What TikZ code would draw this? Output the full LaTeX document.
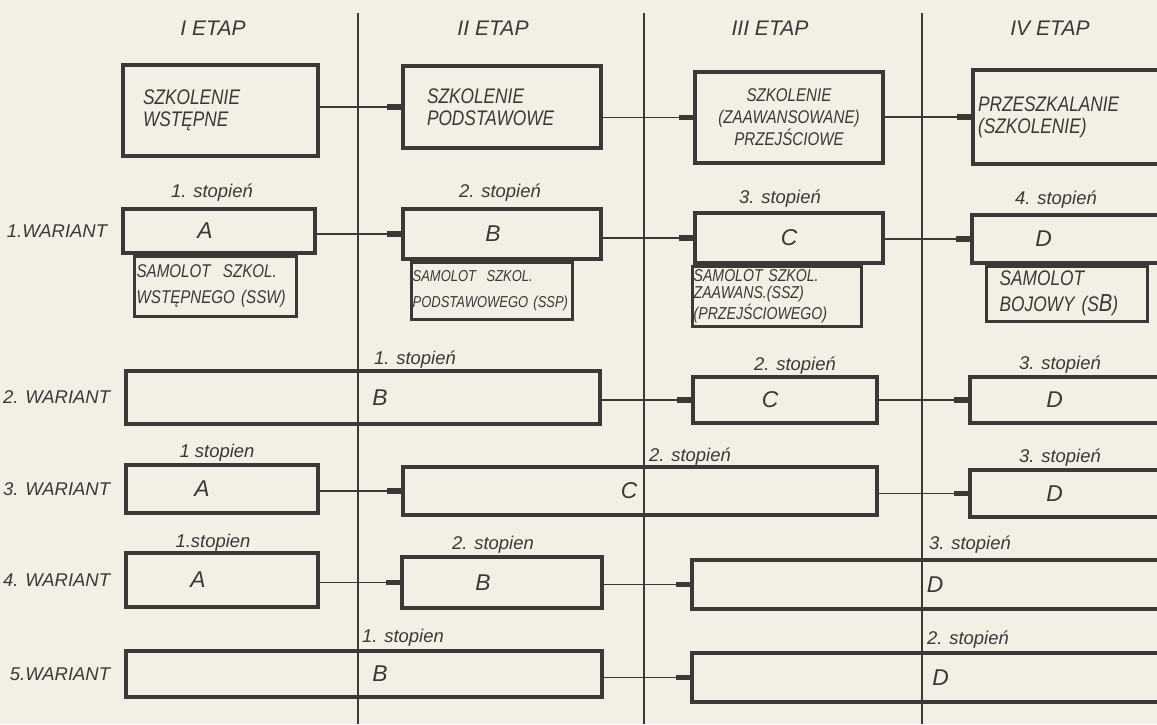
\documentclass[tikz,border=0pt]{standalone}
\usepackage{fontspec}
\setmainfont{Liberation Sans}
\newfontfamily\condfont{Liberation Sans Italic}[FakeStretch=0.82]
\usepackage{tikz}
\usetikzlibrary{arrows.meta, positioning}
\definecolor{paper}{RGB}{243, 239, 228}
\definecolor{ink}{RGB}{60, 56, 52}

\begin{document}
\begin{tikzpicture}[color=ink,
    box/.style={draw=ink, line width=2pt, inner sep=0pt},
    letter/.style={font=\fontsize{13}{15}\selectfont\itshape},
    etapbox/.style={draw=ink, line width=2pt, inner ysep=0pt, font=\condfont\fontsize{12}{12.5}\selectfont},
    subbox/.style={draw=ink, line width=1.6pt, anchor=north west, align=left, inner ysep=1pt},
    etap/.style={font=\fontsize{12}{14}\selectfont\itshape},
    stopien/.style={font=\fontsize{10.5}{13}\selectfont\itshape},
    wariant/.style={font=\fontsize{10.5}{12}\selectfont\itshape, left=0.16cm of #1},
    arr/.style={-{Rectangle[length=8pt, width=3.2pt]}, line width=1.1pt},
    divider/.style={line width=0.8pt}
  ]

% paper and page size
\fill[paper] (0,0) rectangle (23.14,14.48);
\useasboundingbox (0,0) rectangle (23.14,14.48);

% stage dividers
\foreach \x in {7.16,12.88,18.44}
    \draw[divider] (\x,14.22) -- (\x,0);

% stage headers
\node[etap] (H1) at (4.26,13.92) {I ETAP};
\node[etap] (H2) at (9.86,13.92) {II ETAP};
\node[etap] (H3) at (15.40,13.92) {III ETAP};
\node[etap] (H4) at (21.00,13.92) {IV ETAP};

% training stages
\node[etapbox, text width=3.1cm, inner xsep=0.4cm, minimum height=1.82cm, align=left]
    (E1) at (4.41,12.27) {SZKOLENIE\\WSTĘPNE};
\node[etapbox, text width=3.0cm, inner xsep=0.48cm, minimum height=1.64cm, align=left]
    (E2) at (10.04,12.34) {SZKOLENIE\\PODSTAWOWE};
\node[etapbox, text width=3.56cm, inner xsep=0.1cm, minimum height=1.82cm, align=center,
      font=\condfont\fontsize{10.5}{12.5}\selectfont]
    (E3) at (15.78,12.13) {SZKOLENIE\\(ZAAWANSOWANE)\\PRZEJŚCIOWE};
\node[etapbox, text width=3.84cm, inner xsep=0.1cm, minimum height=1.88cm, align=left]
    (E4) at (21.48,12.14) {PRZESZKALANIE\\(SZKOLENIE)};

% 1. wariant
\node[box, minimum width=3.84cm, minimum height=0.88cm] (A1) at (4.38,9.86) {};
\node[box, minimum width=3.96cm, minimum height=1.0cm] (B1) at (10.04,9.8) {};
\node[box, minimum width=3.76cm, minimum height=1.0cm] (C1) at (15.78,9.72) {};
\node[box, minimum width=4.06cm, minimum height=0.96cm] (D1) at (21.47,9.7) {};
\node[letter] (A1l) at ([xshift=-0.28cm]A1.center) {A};
\node[letter] (B1l) at ([xshift=-0.18cm]B1.center) {B};
\node[letter] (C1l) at (C1.center) {C};
\node[letter] (D1l) at ([xshift=-0.6cm]D1.center) {D};
\node[stopien] (S11) at (4.24,10.62) {1. stopień};
\node[stopien] (S12) at (10.0,10.62) {2. stopień};
\node[stopien] (S13) at (15.6,10.5) {3. stopień};
\node[stopien] (S14) at (21.12,10.48) {4. stopień};
\node[wariant=A1] (W1) {1.WARIANT};

% aircraft types
\node[subbox, text width=3.16cm, inner xsep=0.04cm, minimum height=1.2cm,
      font=\condfont\fontsize{10.5}{14.5}\selectfont]
    (A1s) at ([xshift=0.24cm]A1.south west) {SAMOLOT\ \ SZKOL.\\WSTĘPNEGO (SSW)};
\node[subbox, text width=3.18cm, inner xsep=0.02cm, minimum height=1.14cm,
      font=\condfont\fontsize{9}{15}\selectfont]
    (B1s) at ([xshift=0.18cm]B1.south west) {SAMOLOT\ \ SZKOL.\\PODSTAWOWEGO (SSP)};
\node[subbox, text width=3.34cm, inner xsep=0.02cm, minimum height=1.2cm,
      font=\condfont\fontsize{9.8}{9.6}\selectfont]
    (C1s) at ([xshift=-0.04cm]C1.south west) {SAMOLOT SZKOL.\\ZAAWANS.(SSZ)\\(PRZEJŚCIOWEGO)};
\node[subbox, text width=2.7cm, inner xsep=0.26cm, minimum height=1.1cm,
      font=\condfont\fontsize{12}{14.7}\selectfont]
    (D1s) at ([xshift=0.3cm]D1.south west) {SAMOLOT\\BOJOWY (S{\fontsize{14}{14}\selectfont B})};

% 2. wariant
\node[box, minimum width=9.48cm, minimum height=1.06cm] (B2) at (7.26,6.53) {};
\node[box, minimum width=3.68cm, minimum height=0.92cm] (C2) at (15.7,6.48) {};
\node[box, minimum width=4.1cm, minimum height=0.92cm] (D2) at (21.45,6.48) {};
\node[letter] (B2l) at ([xshift=0.34cm]B2.center) {B};
\node[letter] (C2l) at ([xshift=-0.3cm]C2.center) {C};
\node[letter] (D2l) at ([xshift=-0.36cm]D2.center) {D};
\node[stopien] (S21) at (8.3,7.28) {1. stopień};
\node[stopien] (S22) at (15.9,7.16) {2. stopień};
\node[stopien] (S23) at (21.2,7.18) {3. stopień};
\node[wariant=B2] (W2) {2. WARIANT};

% 3. wariant
\node[box, minimum width=3.84cm, minimum height=0.96cm] (A3) at (4.44,4.7) {};
\node[box, minimum width=9.48cm, minimum height=0.96cm] (C3) at (12.8,4.66) {};
\node[box, minimum width=4.1cm, minimum height=0.94cm] (D3) at (21.45,4.61) {};
\node[letter] (A3l) at ([xshift=-0.4cm]A3.center) {A};
\node[letter] (C3l) at ([xshift=-0.22cm]C3.center) {C};
\node[letter] (D3l) at ([xshift=-0.36cm]D3.center) {D};
\node[stopien] (S31) at (4.34,5.42) {1 stopien};
\node[stopien] (S32) at (13.8,5.34) {2. stopień};
\node[stopien] (S33) at (21.2,5.32) {3. stopień};
\node[wariant=A3] (W3) {3. WARIANT};

% 4. wariant
\node[box, minimum width=3.84cm, minimum height=1.08cm] (A4) at (4.44,2.88) {};
\node[box, minimum width=4.0cm, minimum height=1.02cm] (B4) at (10.04,2.83) {};
\node[box, minimum width=9.66cm, minimum height=0.98cm] (D4) at (18.67,2.79) {};
\node[letter] (A4l) at ([xshift=-0.48cm]A4.center) {A};
\node[letter] (B4l) at ([xshift=-0.38cm]B4.center) {B};
\node[letter] (D4l) at ([xshift=0.03cm]D4.center) {D};
\node[stopien] (S41) at (4.26,3.62) {1.stopien};
\node[stopien] (S42) at (9.86,3.58) {2. stopien};
\node[stopien] (S43) at (19.4,3.58) {3. stopień};
\node[wariant=A4] (W4) {4. WARIANT};

% 5. wariant
\node[box, minimum width=9.52cm, minimum height=0.92cm] (B5) at (7.28,1.0) {};
\node[box, minimum width=9.66cm, minimum height=0.98cm] (D5) at (18.67,0.93) {};
\node[letter] (B5l) at ([xshift=0.32cm]B5.center) {B};
\node[letter] (D5l) at ([xshift=0.14cm]D5.center) {D};
\node[stopien] (S51) at (8.06,1.72) {1. stopien};
\node[stopien] (S52) at (19.36,1.68) {2. stopień};
\node[wariant=B5] (W5) {5.WARIANT};

% connectors
\foreach \a/\b in {E1/E2, E2/E3, E3/E4, A1/B1, B1/C1, C1/D1, B2/C2, C2/D2,
                   A3/C3, C3/D3, A4/B4, B4/D4, B5/D5}
    \draw[arr] (\a.east |- \b.west) -- (\b.west);

\end{tikzpicture}
\end{document}
